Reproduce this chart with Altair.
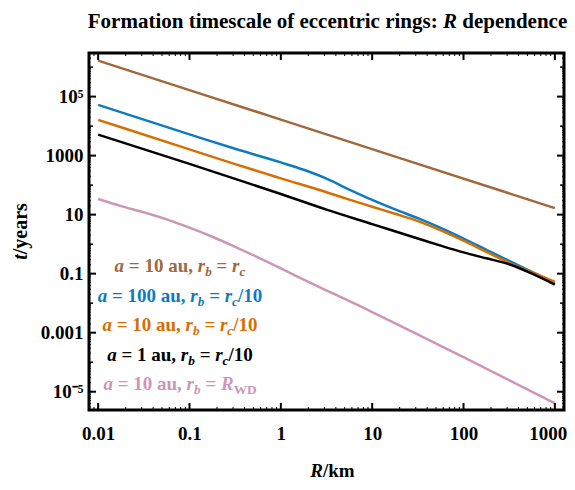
import altair as alt
import pandas as pd

# ---------------- data ----------------
names = ["a=10 au, rb=rc", "a=100 au, rb=rc/10", "a=10 au, rb=rc/10", "a=1 au, rb=rc/10", "a=10 au, rb=RWD"]
colors = ["#A0693C", "#0F7BBF", "#D76E00", "#000000", "#CD96B9"]

R_brown = [0.01, 1, 1000]
t_brown = [1.66e6, 1.66e4, 16.6]

R_blue = [0.01, 0.0316, 0.1, 0.316, 1, 1.78, 3.16, 5.62, 10, 17.8, 31.6, 56.2, 100, 178, 316, 562, 1000]
t_blue = [52500, 16600, 5250, 1700, 589, 331, 166, 70.8, 31.6, 15.1, 7.59, 3.55, 1.55, 0.646, 0.269, 0.115, 0.049]

R_orange = [0.01, 0.1, 0.316, 1, 3.16, 5.62, 10, 17.8, 31.6, 56.2, 100, 178, 316, 562, 1000]
t_orange = [16200, 1620, 513, 170, 57.5, 32.4, 18.6, 10.7, 6.03, 2.95, 1.32, 0.55, 0.234, 0.110, 0.0525]

R_black = [0.01, 0.1, 1, 3.16, 10, 31.6, 56.2, 100, 178, 316, 562, 1000]
t_black = [5130, 525, 50.1, 14.8, 4.79, 1.55, 0.89, 0.525, 0.331, 0.209, 0.100, 0.0427]

R_pink = [0.01, 0.0178, 0.0316, 0.0562, 0.1, 0.178, 0.316, 0.562, 1, 1.78, 10, 100, 1000]
t_pink = [33.9, 19.5, 12.0, 6.92, 3.63, 1.78, 0.813, 0.355, 0.151, 0.0631, 5.01e-3, 1.48e-4, 4.07e-6]

x_major = [0.01, 0.1, 1, 10, 100, 1000]
y_major = [1e-5, 1e-3, 0.1, 10, 1000, 1e5]
y_decade_minor = [1e-4, 1e-2, 1, 100, 1e4, 1e6]

series = [(names[0], R_brown, t_brown), (names[4], R_pink, t_pink), (names[1], R_blue, t_blue),
          (names[2], R_orange, t_orange), (names[3], R_black, t_black)]
rows = []
for i, (n, rr, tt) in enumerate(series):
    for r, t in zip(rr, tt):
        rows.append({"series": n, "R": r, "t": t, "k": i})
df = pd.DataFrame(rows)

# ---------------- layout / style ----------------
W, H = 475, 357
FONT = "Liberation Serif"
xscale = alt.Scale(type="log", domain=[0.00794, 1259], nice=False)
yscale = alt.Scale(type="log", domain=[2.4e-6, 3.0e6], nice=False)

xaxis = alt.Axis(values=x_major, format="~g", title=None, ticks=False, domain=False, grid=False,
                 labelFont=FONT, labelFontWeight="bold", labelFontSize=19, labelColor="black",
                 labelPadding=14, labelFlush=False,
                 labelOffset=alt.ExprRef(expr="datum.value > 500 ? -7 : 0"))
yaxis = alt.Axis(values=y_major, format="~g", title=None, ticks=False, domain=False, grid=False,
                 labelFont=FONT, labelFontWeight="bold", labelFontSize=19, labelColor="black",
                 labelPadding=6, labelFlush=False,
                 labelExpr="datum.value > 5e4 ? '10⁵' : (datum.value < 5e-5 ? '10⁻⁵' : datum.label)")

lines = alt.Chart(df).mark_line(strokeWidth=2.5, interpolate="monotone").encode(
    x=alt.X("R:Q", scale=xscale, axis=xaxis),
    y=alt.Y("t:Q", scale=yscale, axis=yaxis),
    color=alt.Color("series:N", scale=alt.Scale(domain=names, range=colors), legend=None),
    detail="series:N",
    order="k:Q",
)

# inward ticks
x_minor = [k * 10.0 ** d for d in range(-3, 3) for k in range(2, 10)]
x_minor = [v for v in x_minor if 0.00794 < v < 1259]
y_minor = [k * 10.0 ** d for d in range(-6, 7) for k in range(2, 10)]
y_minor = [v for v in y_minor if 2.4e-6 < v < 3.0e6]

dfx_major = pd.DataFrame({"R": x_major})
dfx_minor = pd.DataFrame({"R": x_minor})
dfy_major = pd.DataFrame({"t": y_major})
dfy_dec = pd.DataFrame({"t": y_decade_minor})
dfy_minor = pd.DataFrame({"t": y_minor})

def xticks(d, length, width):
    out = []
    for y0, y1 in [(H, H - length), (0, length)]:
        out.append(alt.Chart(d).mark_rule(color="black", strokeWidth=width).encode(
            x=alt.X("R:Q", scale=xscale, axis=xaxis), y=alt.value(y0), y2=alt.value(y1)))
    return out

def yticks(d, length, width):
    out = []
    for x0, x1 in [(0, length), (W, W - length)]:
        out.append(alt.Chart(d).mark_rule(color="black", strokeWidth=width).encode(
            y=alt.Y("t:Q", scale=yscale, axis=yaxis), x=alt.value(x0), x2=alt.value(x1)))
    return out

tick_layers = (xticks(dfx_major, 7, 2) + xticks(dfx_minor, 3, 1) +
               yticks(dfy_major, 7, 2) + yticks(dfy_dec, 4, 1.5) + yticks(dfy_minor, 2, 0.8))

frame = alt.Chart(pd.DataFrame({"f": [0]})).mark_rect(fill=None, fillOpacity=0, stroke="black", strokeWidth=3).encode(
    x=alt.value(0), x2=alt.value(W), y=alt.value(0), y2=alt.value(H))

# ---------------- rich text (italics / subscripts) ----------------
W_UP = {' ': 250, '=': 570, '0': 500, '1': 500, 'a': 500, 'u': 556, ',': 250, '/': 278, 'W': 1000,
        'D': 722, 'k': 556, 'm': 833, 'y': 500, 'e': 444, 'r': 444, 's': 389, 'F': 611, 'o': 500,
        't': 333, 'i': 278, 'n': 556, 'c': 444, 'l': 278, 'f': 333, 'g': 500, ':': 333, 'd': 556,
        'p': 556, 'b': 556}
W_IT = {' ': 250, 'a': 500, 'r': 389, 'b': 500, 'c': 444, 'R': 667, 't': 278}

def seg_w(txt, style, size):
    table = W_IT if style in ("it", "sub") else W_UP
    s = size * 0.7 if style in ("sub", "subup") else size
    return sum(table.get(ch, 500) for ch in txt) * s / 1000.0

def rich(segs, cx, y, size, color, angle=0):
    total = sum(seg_w(t, s, size) for t, s in segs)
    pos = -total / 2
    out = []
    for t, s in segs:
        fs = size * 0.7 if s in ("sub", "subup") else size
        shift = size * 0.22 if s in ("sub", "subup") else 0
        style = "italic" if s in ("it", "sub") else "normal"
        lead = len(t) - len(t.lstrip(" "))
        start = pos + seg_w(" " * lead, s, size)
        core = t.strip(" ")
        if angle == 0:
            px, py = cx + start, y + shift
        else:
            px, py = cx + shift, y - start
        out.append(alt.Chart(pd.DataFrame({"s": [core]})).mark_text(
            align="left", baseline="alphabetic", font=FONT, fontSize=fs, fontWeight="bold",
            fontStyle=style, color=color, angle=angle).encode(
            x=alt.value(px), y=alt.value(py), text="s:N"))
        pos += seg_w(t, s, size)
    return out

legend_lines = [
    ([("a", "it"), (" = 10 au, ", "up"), ("r", "it"), ("b", "sub"), (" = ", "up"), ("r", "it"), ("c", "sub")], colors[0]),
    ([("a", "it"), (" = 100 au, ", "up"), ("r", "it"), ("b", "sub"), (" = ", "up"), ("r", "it"), ("c", "sub"), ("/10", "up")], colors[1]),
    ([("a", "it"), (" = 10 au, ", "up"), ("r", "it"), ("b", "sub"), (" = ", "up"), ("r", "it"), ("c", "sub"), ("/10", "up")], colors[2]),
    ([("a", "it"), (" = 1 au, ", "up"), ("r", "it"), ("b", "sub"), (" = ", "up"), ("r", "it"), ("c", "sub"), ("/10", "up")], colors[3]),
    ([("a", "it"), (" = 10 au, ", "up"), ("r", "it"), ("b", "sub"), (" = ", "up"), ("R", "it"), ("WD", "subup")], colors[4]),
]
legend_y = [219, 248.5, 278, 307.5, 337]
text_layers = []
for (segs, col), yy in zip(legend_lines, legend_y):
    text_layers += rich(segs, 91, yy, 19, col)

# title
text_layers += rich([("Formation timescale of eccentric rings: ", "up"), ("R", "it"), (" dependence", "up")],
                    W / 2 + 1, -25, 21, "black")
# axis titles
text_layers += rich([("R", "it"), ("/km", "up")], W / 2 + 6, 424, 19, "black")
text_layers += rich([("t", "it"), ("/years", "up")], -62, H / 2, 20, "black", angle=270)

chart = alt.layer(lines, *tick_layers, frame, *text_layers).properties(
    width=W, height=H,
    autosize=alt.AutoSizeParams(type="none"),
    padding={"left": 81, "top": 45, "right": 3, "bottom": 72},
).configure_view(stroke=None).configure(background="white")

chart.save("out.html", embed_options={"renderer": "svg", "actions": False})
